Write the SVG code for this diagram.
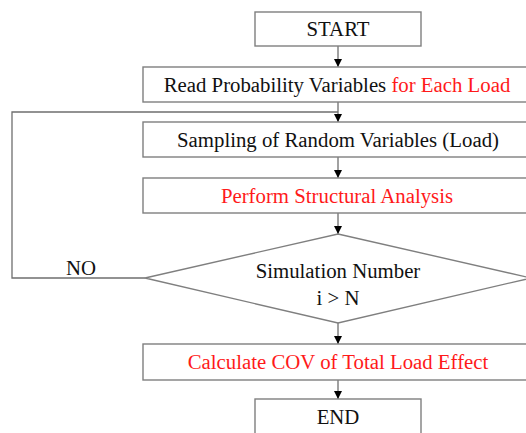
<svg xmlns="http://www.w3.org/2000/svg" width="526" height="433" viewBox="0 0 526 433" font-family="'Liberation Serif', 'Times New Roman', serif">
<style>
.box{fill:#fff;stroke:#7f7f7f;stroke-width:1.4}
.ln{fill:none;stroke:#6f6f6f;stroke-width:1.3}
text{font-family:"Liberation Serif","Times New Roman",serif;font-size:20.8px;text-anchor:middle;fill:#111}
.red{fill:#ff1a1a}
</style>
<defs>
<marker id="ah" viewBox="0 0 10 10" refX="10" refY="5" markerWidth="8" markerHeight="8" markerUnits="userSpaceOnUse" orient="auto">
<path d="M0,0 L10,5 L0,10 Z" fill="#000"/>
</marker>
</defs>
<rect width="526" height="433" fill="#fff"/>
<g id="connectors">
<line class="ln" x1="338" y1="46" x2="338" y2="67" marker-end="url(#ah)"/>
<line class="ln" x1="338" y1="102" x2="338" y2="122" marker-end="url(#ah)"/>
<polyline class="ln" points="145,278 12,278 12,112 338,112"/>
<line class="ln" x1="338" y1="157" x2="338" y2="178" marker-end="url(#ah)"/>
<line class="ln" x1="338" y1="213" x2="338" y2="234" marker-end="url(#ah)"/>
<line class="ln" x1="338" y1="323" x2="338" y2="344" marker-end="url(#ah)"/>
<line class="ln" x1="338" y1="380" x2="338" y2="399" marker-end="url(#ah)"/>
<text x="81" y="275">NO</text>
</g>
<g id="start">
<rect class="box" x="255" y="12" width="166" height="34"/>
<text x="338" y="36">START</text>
</g>
<g id="read">
<rect class="box" x="143" y="67" width="390" height="35"/>
<text x="337" y="91.5">Read Probability Variables <tspan class="red">for Each Load</tspan></text>
</g>
<g id="sampling">
<rect class="box" x="143" y="122" width="390" height="35"/>
<text x="338" y="146.5">Sampling of Random Variables (Load)</text>
</g>
<g id="perform">
<rect class="box" x="143" y="178" width="390" height="35"/>
<text class="red" x="337" y="202.5">Perform Structural Analysis</text>
</g>
<g id="decision">
<polygon class="box" points="338,234 531,278 338,323 145,278"/>
<text x="338" y="278">Simulation Number</text>
<text x="338" y="305">i &gt; N</text>
</g>
<g id="calculate">
<rect class="box" x="143" y="344" width="390" height="36"/>
<text class="red" x="338" y="369">Calculate COV of Total Load Effect</text>
</g>
<g id="end">
<rect class="box" x="255" y="399" width="166" height="40"/>
<text x="338" y="424">END</text>
</g>
</svg>
